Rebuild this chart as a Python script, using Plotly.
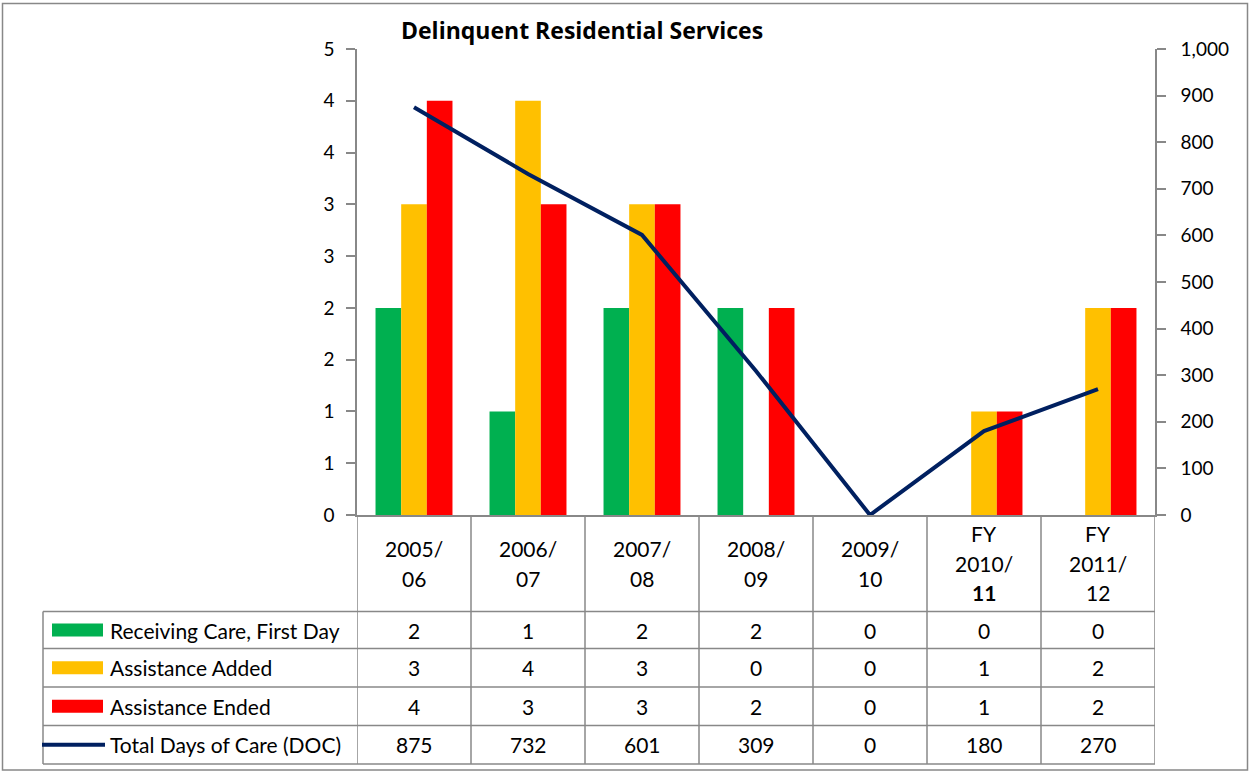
import plotly.graph_objects as go

# ---------------- data ----------------
categories = ["2005/06", "2006/07", "2007/08", "2008/09", "2009/10", "FY 2010/11", "FY 2011/12"]
header_lines = [["2005/", "06"], ["2006/", "07"], ["2007/", "08"], ["2008/", "09"],
                ["2009/", "10"], ["FY", "2010/", "<b>11</b>"], ["FY", "2011/", "12"]]
receiving_care = [2, 1, 2, 2, 0, 0, 0]
assistance_added = [3, 4, 3, 0, 0, 1, 2]
assistance_ended = [4, 3, 3, 2, 0, 1, 2]
total_doc = [875, 732, 601, 309, 0, 180, 270]

left_tick_vals = [0, 0.5, 1, 1.5, 2, 2.5, 3, 3.5, 4, 4.5]
left_tick_labels = ["0", "1", "1", "2", "2", "3", "3", "4", "4", "5"]
right_tick_vals = [0, 100, 200, 300, 400, 500, 600, 700, 800, 900, 1000]

series_names = ["Receiving Care, First Day", "Assistance Added", "Assistance Ended", "Total Days of Care (DOC)"]
series_values = [receiving_care, assistance_added, assistance_ended, total_doc]
colors = ["#00B050", "#FFC000", "#FF0000", "#002060"]

# ---------------- layout geometry (pixels) ----------------
W, H = 1250, 772
PL, PR, PT, PB = 357, 1155, 49, 515     # plot area
PW, PH = PR - PL, PB - PT
FONT = "Lato"
GRID = "#888888"
n = len(categories)


def px(x):
    return (x - PL) / PW


def py(y):
    return (PB - y) / PH


fig = go.Figure()
for name, vals, col in zip(series_names[:3], series_values[:3], colors[:3]):
    fig.add_trace(go.Bar(x=list(range(n)), y=vals, name=name, marker=dict(color=col, line=dict(width=0)),
                         yaxis="y"))
fig.add_trace(go.Scatter(x=list(range(n)), y=total_doc, name=series_names[3], mode="lines",
                         line=dict(color=colors[3], width=4), yaxis="y2"))

shapes = []
annotations = []

# outer border
shapes.append(dict(type="rect", xref="paper", yref="paper", x0=px(2.5), x1=px(1247.5), y0=py(3.5), y1=py(770),
                   line=dict(color=GRID, width=1.5), layer="below"))

# table geometry
row_edges = [515, 611.5, 648.5, 687, 725.5, 764]
TL = 43
lw = dict(color=GRID, width=1.5)
# vertical column lines (category boundaries)
for k in range(n + 1):
    shapes.append(dict(type="line", xref="x", yref="paper", x0=k - 0.5, x1=k - 0.5,
                       y0=py(515), y1=py(764), line=lw))
# legend column left edge
shapes.append(dict(type="line", xref="paper", yref="paper", x0=px(TL), x1=px(TL),
                   y0=py(row_edges[1]), y1=py(764), line=lw))
# horizontal lines
for yy in row_edges[1:]:
    shapes.append(dict(type="line", xref="paper", yref="paper", x0=px(TL), x1=px(PR),
                       y0=py(yy), y1=py(yy), line=lw))

# header labels
TFS = 21
for i, lines in enumerate(header_lines):
    m = len(lines)
    centre = (row_edges[0] + row_edges[1]) / 2
    for j, t in enumerate(lines):
        yy = centre + (j - (m - 1) / 2) * 29.5
        annotations.append(dict(xref="x", yref="paper", x=i, y=py(yy), text=t, showarrow=False,
                                xanchor="center", yanchor="middle",
                                font=dict(family=FONT, size=TFS, color="#000000")))

# rows: legend key, name, values
for r in range(4):
    cy = (row_edges[r + 1] + row_edges[r + 2]) / 2
    if r < 3:
        shapes.append(dict(type="rect", xref="paper", yref="paper", x0=px(52), x1=px(103),
                           y0=py(cy - 6.5), y1=py(cy + 6.5), fillcolor=colors[r], line=dict(width=0)))
    else:
        shapes.append(dict(type="line", xref="paper", yref="paper", x0=px(42), x1=px(105),
                           y0=py(cy), y1=py(cy), line=dict(color=colors[r], width=4)))
    annotations.append(dict(xref="paper", yref="paper", x=px(108), y=py(cy), text=series_names[r],
                            showarrow=False, xanchor="left", yanchor="middle",
                            font=dict(family=FONT, size=TFS, color="#000000")))
    for i, v in enumerate(series_values[r]):
        annotations.append(dict(xref="x", yref="paper", x=i, y=py(cy), text=str(v), showarrow=False,
                                xanchor="center", yanchor="middle",
                                font=dict(family=FONT, size=TFS, color="#000000")))

# title
annotations.append(dict(xref="paper", yref="paper", x=px(582), y=py(30), text="<b>Delinquent Residential Services</b>",
                        showarrow=False, xanchor="center", yanchor="middle",
                        font=dict(family="Open Sans", size=23, color="#000000")))

axis_font = dict(family=FONT, size=19, color="#000000")
fig.update_layout(
    width=W, height=H,
    margin=dict(l=PL, r=W - PR, t=PT, b=H - PB, pad=0),
    paper_bgcolor="white", plot_bgcolor="white",
    showlegend=False,
    barmode="group", bargap=0.325, bargroupgap=0,
    xaxis=dict(range=[-0.5, n - 0.5], showticklabels=False, showgrid=False, zeroline=False,
               showline=True, linecolor=GRID, linewidth=1.5, ticks="", fixedrange=True),
    yaxis=dict(range=[0, 4.5], tickvals=left_tick_vals, ticktext=left_tick_labels, showgrid=False,
               zeroline=False, showline=True, linecolor=GRID, linewidth=1.5, ticks="outside",
               ticklen=9, tickcolor=GRID, tickwidth=1.5, tickfont=axis_font, ticklabelstandoff=8),
    yaxis2=dict(range=[0, 1000], tickvals=right_tick_vals, tickformat=",", overlaying="y", side="right",
                showgrid=False, zeroline=False, showline=True, linecolor=GRID, linewidth=1.5,
                ticks="outside", ticklen=9, tickcolor=GRID, tickwidth=1.5, tickfont=axis_font,
                ticklabelstandoff=11),
    shapes=shapes,
    annotations=annotations,
)

fig.write_html("out.html", config={"displayModeBar": False},
               post_script="document.body.style.margin='0px';document.body.style.overflow='hidden';")
